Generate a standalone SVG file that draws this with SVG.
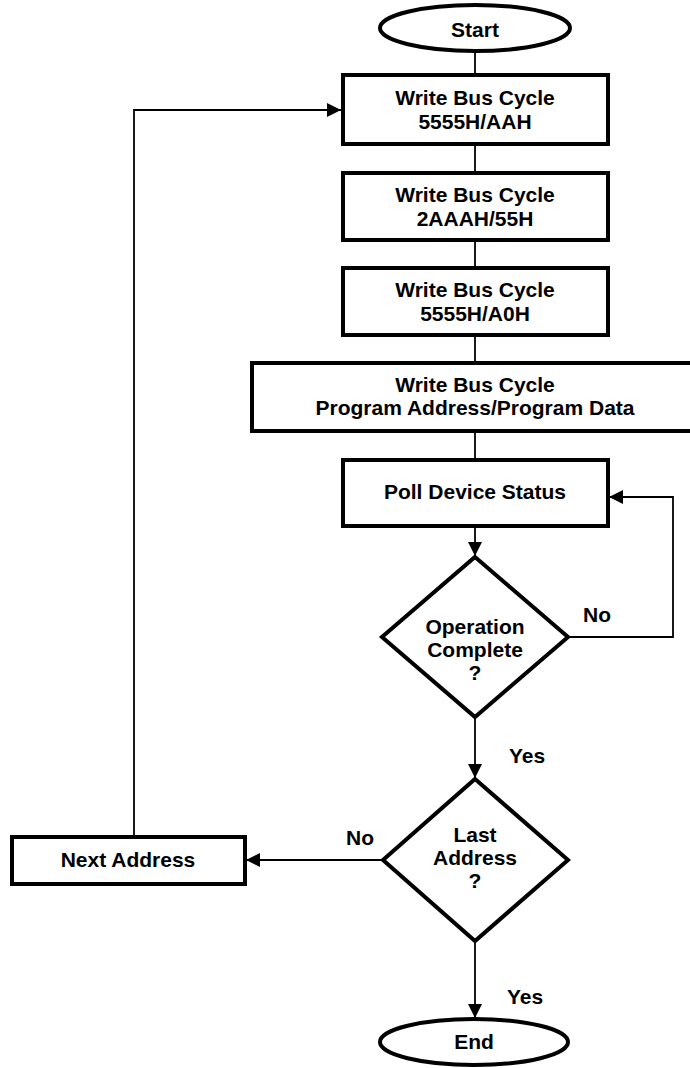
<svg xmlns="http://www.w3.org/2000/svg" width="690" height="1068" viewBox="0 0 690 1068">
<style>
.shape{fill:#fff;stroke:#000;stroke-width:4;stroke-linejoin:miter}
.t{font-family:"Liberation Sans",Arial,sans-serif;font-weight:bold;font-size:21px;text-anchor:middle;fill:#000}
.lbl{font-family:"Liberation Sans",Arial,sans-serif;font-weight:bold;font-size:21px;fill:#000}
.c{fill:none;stroke:#000;stroke-width:1.8}
</style>
<defs>
<marker id="ah" markerWidth="15" markerHeight="15" refX="14" refY="7" orient="auto" markerUnits="userSpaceOnUse">
<path d="M0,0 L14,7 L0,14 Z" fill="#000"/>
</marker>
</defs>
<rect width="690" height="1068" fill="#fff"/>
<g id="connectors">
<line class="c" x1="475" y1="51" x2="475" y2="75"/>
<line class="c" x1="475" y1="144" x2="475" y2="173"/>
<line class="c" x1="475" y1="240" x2="475" y2="268"/>
<line class="c" x1="475" y1="335" x2="475" y2="363"/>
<line class="c" x1="475" y1="431" x2="475" y2="460"/>
<line class="c" x1="475" y1="526" x2="475" y2="556" marker-end="url(#ah)"/>
<polyline class="c" points="569,637 673,637 673,497 609,497" marker-end="url(#ah)"/>
<line class="c" x1="475" y1="718" x2="475" y2="778" marker-end="url(#ah)"/>
<line class="c" x1="383" y1="860" x2="246" y2="860" marker-end="url(#ah)"/>
<polyline class="c" points="134,837 134,110 341,110" marker-end="url(#ah)"/>
<line class="c" x1="475" y1="942" x2="475" y2="1018" marker-end="url(#ah)"/>
</g>
<g id="start">
<ellipse class="shape" cx="475" cy="28" rx="95" ry="23"/>
<text class="t" x="475" y="37">Start</text>
</g>
<g id="wbc1">
<rect class="shape" x="343" y="75" width="265" height="69"/>
<text class="t" x="475" y="105">Write Bus Cycle</text>
<text class="t" x="475" y="129">5555H/AAH</text>
</g>
<g id="wbc2">
<rect class="shape" x="343" y="173" width="265" height="67"/>
<text class="t" x="475" y="202">Write Bus Cycle</text>
<text class="t" x="475" y="226">2AAAH/55H</text>
</g>
<g id="wbc3">
<rect class="shape" x="343" y="268" width="265" height="67"/>
<text class="t" x="475" y="297">Write Bus Cycle</text>
<text class="t" x="475" y="321">5555H/A0H</text>
</g>
<g id="wbc4">
<rect class="shape" x="252" y="363" width="446" height="68"/>
<text class="t" x="475" y="392">Write Bus Cycle</text>
<text class="t" x="475" y="415">Program Address/Program Data</text>
</g>
<g id="poll">
<rect class="shape" x="343" y="460" width="265" height="66"/>
<text class="t" x="475" y="499">Poll Device Status</text>
</g>
<g id="opcomplete">
<polygon class="shape" points="475,557 568,637 475,717 382,637"/>
<text class="t" x="475" y="634">Operation</text>
<text class="t" x="475" y="657">Complete</text>
<text class="t" x="475" y="680">?</text>
</g>
<g id="lastaddr">
<polygon class="shape" points="475,779 568,860 475,941 383,860"/>
<text class="t" x="475" y="842">Last</text>
<text class="t" x="475" y="865">Address</text>
<text class="t" x="475" y="888">?</text>
</g>
<g id="nextaddr">
<rect class="shape" x="12" y="837" width="233" height="47"/>
<text class="t" x="128" y="867">Next Address</text>
</g>
<g id="end">
<ellipse class="shape" cx="474" cy="1042" rx="94" ry="23"/>
<text class="t" x="474" y="1049">End</text>
</g>
<g id="labels">
<text class="lbl" x="583" y="622">No</text>
<text class="lbl" x="509" y="763">Yes</text>
<text class="lbl" x="346" y="845">No</text>
<text class="lbl" x="507" y="1004">Yes</text>
</g>
</svg>
